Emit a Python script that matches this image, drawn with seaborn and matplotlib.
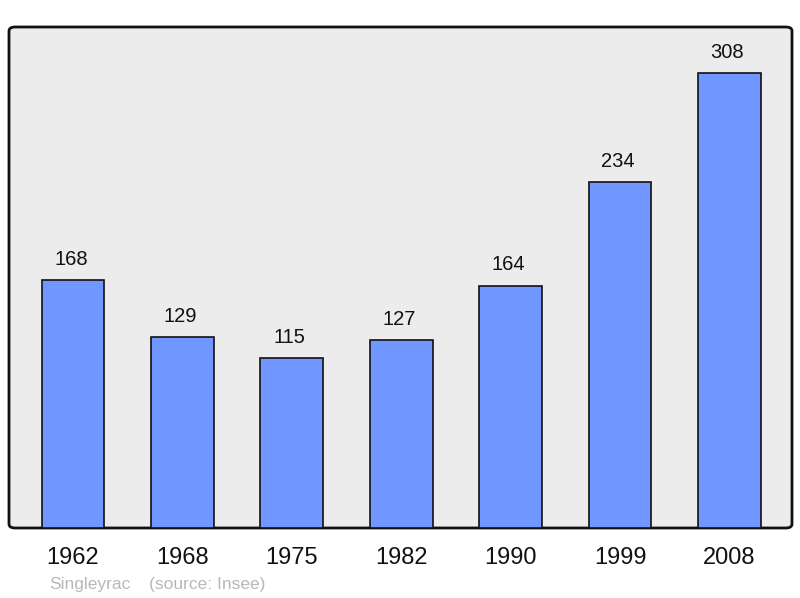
import matplotlib
matplotlib.use("Agg")
import matplotlib.pyplot as plt
from matplotlib.patches import FancyBboxPatch
import seaborn as sns
import pandas as pd

years = ["1962", "1968", "1975", "1982", "1990", "1999", "2008"]
population = [168, 129, 115, 127, 164, 234, 308]

sns.set_style("white")
plt.rcParams["font.family"] = ["Liberation Sans", "DejaVu Sans"]

df = pd.DataFrame({"year": years, "pop": population})

fig = plt.figure(figsize=(8, 5.98), dpi=100)
ax = fig.add_axes([9 / 800, 70 / 598, 783 / 800, 501 / 598])
ax.set_facecolor("none")

# rounded grey panel behind the bars
bg = FancyBboxPatch((0, 0), 1, 1, boxstyle="round,pad=0,rounding_size=0.008",
                    transform=ax.transAxes, facecolor="#ececec",
                    edgecolor="#111111", linewidth=2, zorder=0, clip_on=False)
ax.add_patch(bg)

sns.barplot(data=df, x="year", y="pop", color="#6f97ff", saturation=1,
            width=0.575, edgecolor="#111111", linewidth=1.2, ax=ax, zorder=2)

for i, v in enumerate(population):
    ax.text(i - 0.02, v + 14, str(v), ha="center", va="center", fontsize=14.5, color="#111111")

ax.set_xlim(-0.585, 6.572)
ax.set_ylim(0, 339)
ax.set_yticks([])
ax.set_xlabel("")
ax.set_ylabel("")
ax.tick_params(axis="x", length=0, labelsize=17, pad=13.5, colors="#111111")
for s in ax.spines.values():
    s.set_visible(False)

fig.text(49 / 800, 1 - 584 / 598, "Singleyrac", fontsize=12.5, color="#b8b8b8", va="center")
fig.text(149 / 800, 1 - 584 / 598, "(source: Insee)", fontsize=12.5, color="#b8b8b8", va="center")

fig.savefig("out.png", dpi=100)
